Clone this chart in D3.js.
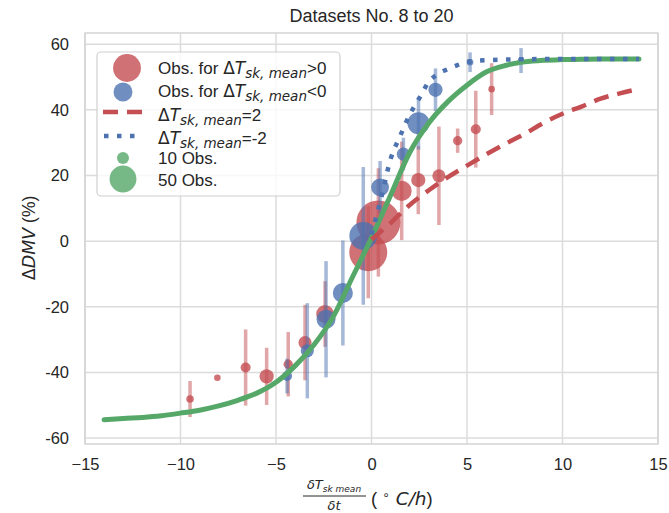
<!DOCTYPE html>
<html><head><meta charset="utf-8">
<script src="https://cdn.jsdelivr.net/npm/d3@7"></script>
<style>
body{margin:0;background:#fff}
svg{display:block}
text{font-family:"Liberation Sans",Arial,sans-serif;fill:#262626}
.m{font-family:"DejaVu Sans",sans-serif}
</style>
</head><body>
<svg id="c" width="669" height="513"></svg>
<script>
// ---- data ----
const xTicks = [-15, -10, -5, 0, 5, 10, 15];
const yTicks = [-60, -40, -20, 0, 20, 40, 60];

// observations, ΔT_sk,mean > 0
const redX   = [-9.5, -8.07, -6.59, -5.49, -4.36, -3.48, -2.43, -0.17, 0.36, 1.58, 2.45, 3.53, 4.51, 5.46, 6.29];
const redY   = [-48.1, -41.6, -38.5, -41.2, -37.5, -30.9, -22.2, -3.4, 5.7, 15.3, 18.6, 19.9, 30.6, 34.1, 46.3];
const redErr = [5.5, 0, 11.6, 8.7, 9.8, 11.5, 10, 14, 16.5, 15, 10.4, 15, 3.7, 11.7, 7.9];
const redN   = [4, 3, 7, 14, 6, 12, 22, 100, 134, 28, 14, 12, 6, 7, 3];

// observations, ΔT_sk,mean < 0
const blueX   = [-4.42, -3.36, -2.38, -1.5, -0.43, 0.45, 1.67, 2.46, 3.35, 5.16, 7.83];
const blueY   = [-41.1, -33.4, -23.8, -15.8, 1.6, 16.4, 26.5, 35.9, 46.1, 54.5, 55.0];
const blueErr = [5.3, 14.5, 17.7, 16, 21, 8, 5, 8, 6.5, 3, 3.8];
const blueN   = [7, 12, 25, 28, 54, 22, 12, 34, 14, 3, 3];

// fitted curve (green)
const fitX = [-14, -13, -12, -11, -10, -9, -8, -7, -6, -5, -4, -3, -2, -1, 0, 1, 2, 3, 4, 5, 6, 7, 8, 9, 10, 11, 12, 13, 14];
const fitY = [-54.4, -54.0, -53.7, -53.2, -52.4, -51.5, -50.2, -48.5, -46.3, -43.0, -38.0, -31.5, -23.0, -11.0, 1.0, 14.0, 27.0, 36.0, 42.5, 47.5, 51.5, 53.5, 54.6, 55.1, 55.3, 55.4, 55.5, 55.5, 55.5];

// model for ΔT_sk,mean = 2 (red dashed)
const warmX = [0, 0.5, 1, 1.5, 2, 3, 4, 5, 6, 7, 8, 9, 10, 11, 12, 13, 14];
const warmY = [0.5, 3, 5.5, 8.3, 11, 15.5, 19.5, 23, 26.4, 29.6, 32.6, 36, 38.8, 41, 43.4, 45, 46.4];

// model for ΔT_sk,mean = -2 (blue dotted)
const coolX = [0, 0.5, 1, 1.5, 2, 2.5, 3, 3.5, 4, 4.5, 5, 6, 8, 10, 12, 14];
const coolY = [2, 13, 25, 32, 38.5, 43.5, 48.5, 51, 52.4, 53.6, 54.6, 55.1, 55.4, 55.5, 55.5, 55.5];

// legend sizes
const legendN = [54, 25, 10, 50];

// ---- drawing ----
const RED = "#C44E52", BLUE = "#4C72B0", GREEN = "#55A868";
const svg = d3.select("#c");
const x = d3.scaleLinear().domain([-15, 15]).range([85, 658]);
const y = d3.scaleLinear().domain([-61.8, 63.4]).range([444, 33]);
const r = d3.scaleSqrt().domain([0, 10]).range([0, 6]);

// grid
const g = svg.append("g");
g.selectAll(".gx").data(xTicks).join("line")
  .attr("x1", d => x(d)).attr("x2", d => x(d)).attr("y1", y.range()[1]).attr("y2", y.range()[0])
  .attr("stroke", "#dcdcdc").attr("stroke-width", 1.5);
g.selectAll(".gy").data(yTicks).join("line")
  .attr("y1", d => y(d)).attr("y2", d => y(d)).attr("x1", x.range()[0]).attr("x2", x.range()[1])
  .attr("stroke", "#dcdcdc").attr("stroke-width", 1.5);
svg.append("rect").attr("x", 85).attr("y", 33).attr("width", 573).attr("height", 411)
  .attr("fill", "none").attr("stroke", "#d4d4d4").attr("stroke-width", 1.5);

// axes labels (ticks)
const xAxis = d3.axisBottom(x).tickValues(xTicks).tickSize(0).tickPadding(14)
  .tickFormat(d => d < 0 ? "\u2212" + Math.abs(d) : String(d));
svg.append("g").attr("transform", "translate(0,444)").call(xAxis)
  .call(s => s.select(".domain").remove())
  .call(s => s.selectAll("text").attr("font-size", 16.5).attr("fill", "#262626").attr("font-family", '"Liberation Sans",Arial,sans-serif'));
const yAxis = d3.axisLeft(y).tickValues(yTicks).tickSize(0).tickPadding(16).tickFormat(d => String(d));
svg.append("g").attr("transform", "translate(85,0)").call(yAxis)
  .call(s => s.select(".domain").remove())
  .call(s => s.selectAll("text").attr("font-size", 16.5).attr("fill", "#262626").attr("font-family", '"Liberation Sans",Arial,sans-serif'));

// error bars + points
function series(X, Y, E, N, col) {
  const data = X.map((v, i) => ({x: v, y: Y[i], e: E[i], n: N[i]}));
  const gg = svg.append("g");
  gg.selectAll("line").data(data.filter(d => d.e > 0)).join("line")
    .attr("x1", d => x(d.x)).attr("x2", d => x(d.x))
    .attr("y1", d => y(d.y - d.e)).attr("y2", d => y(d.y + d.e))
    .attr("stroke", col).attr("stroke-width", 3.5).attr("stroke-opacity", 0.5);
  gg.selectAll("circle").data(data).join("circle")
    .attr("cx", d => x(d.x)).attr("cy", d => y(d.y)).attr("r", d => r(d.n))
    .attr("fill", col).attr("fill-opacity", 0.8);
}
series(redX, redY, redErr, redN, RED);
series(blueX, blueY, blueErr, blueN, BLUE);

// curves
const line = (X, Y) => d3.line().x(d => x(d[0])).y(d => y(d[1])).curve(d3.curveMonotoneX)(X.map((v, i) => [v, Y[i]]));
svg.append("path").attr("d", line(fitX, fitY)).attr("fill", "none").attr("stroke", GREEN).attr("stroke-width", 5).attr("stroke-linecap", "round");
svg.append("path").attr("d", line(warmX, warmY)).attr("fill", "none").attr("stroke", RED).attr("stroke-width", 4.5).attr("stroke-dasharray", "15,9");
svg.append("path").attr("d", line(coolX, coolY)).attr("fill", "none").attr("stroke", BLUE).attr("stroke-width", 4.5).attr("stroke-dasharray", "4.5,8.5");

// title
svg.append("text").attr("x", 371.5).attr("y", 22).attr("text-anchor", "middle").attr("font-size", 18).text("Datasets No. 8 to 20");

// y label
const yl = svg.append("text").attr("transform", "translate(35,238) rotate(-90)").attr("text-anchor", "middle").attr("font-size", 17.5);
yl.append("tspan").attr("class", "m").text("\u0394");
yl.append("tspan").attr("class", "m").attr("font-style", "italic").text("DMV");
yl.append("tspan").text(" (%)");

// x label (fraction)
const xl = svg.append("g");
const num = xl.append("text").attr("x", 334).attr("y", 489).attr("text-anchor", "middle").attr("font-size", 13).attr("class", "m");
num.append("tspan").attr("font-style", "italic").text("\u03b4T");
num.append("tspan").attr("font-style", "italic").attr("font-size", 9).attr("dy", 3).text("sk mean");
xl.append("line").attr("x1", 303).attr("x2", 366).attr("y1", 496).attr("y2", 496).attr("stroke", "#262626").attr("stroke-width", 1);
xl.append("text").attr("x", 334).attr("y", 510).attr("text-anchor", "middle").attr("font-size", 13).attr("class", "m").attr("font-style", "italic").text("\u03b4t");
const unit = xl.append("text").attr("x", 371).attr("y", 505).attr("font-size", 18.5);
unit.append("tspan").text("( ");
unit.append("tspan").attr("font-size", 12).attr("dy", -6).attr("class", "m").text("\u2218");
unit.append("tspan").attr("dy", 6).attr("class", "m").attr("font-style", "italic").text(" C/h");
unit.append("tspan").text(")");

// legend
const lg = svg.append("g");
lg.append("rect").attr("x", 97).attr("y", 52).attr("width", 243).attr("height", 144).attr("rx", 4)
  .attr("fill", "#fff").attr("fill-opacity", 0.8).attr("stroke", "#d0d0d0").attr("stroke-width", 1.2);
lg.append("circle").attr("cx", 127).attr("cy", 68).attr("r", r(legendN[0])).attr("fill", RED).attr("fill-opacity", 0.8);
lg.append("circle").attr("cx", 123).attr("cy", 92).attr("r", r(legendN[1])).attr("fill", BLUE).attr("fill-opacity", 0.8);
lg.append("line").attr("x1", 103).attr("x2", 143).attr("y1", 112).attr("y2", 112).attr("stroke", RED).attr("stroke-width", 4.5).attr("stroke-dasharray", "15,9");
lg.append("line").attr("x1", 104).attr("x2", 143).attr("y1", 136).attr("y2", 136).attr("stroke", BLUE).attr("stroke-width", 4.5).attr("stroke-dasharray", "4.5,8.5");
lg.append("circle").attr("cx", 123).attr("cy", 158).attr("r", r(legendN[2])).attr("fill", GREEN).attr("fill-opacity", 0.8);
lg.append("circle").attr("cx", 123).attr("cy", 179).attr("r", r(legendN[3])).attr("fill", GREEN).attr("fill-opacity", 0.8);

function mathLabel(yc, pre, post) {
  const t = lg.append("text").attr("x", 158).attr("y", yc + 6).attr("font-size", 17);
  if (pre) t.append("tspan").text(pre);
  t.append("tspan").attr("class", "m").text("\u0394");
  t.append("tspan").attr("class", "m").attr("font-style", "italic").text("T");
  t.append("tspan").attr("class", "m").attr("font-style", "italic").attr("font-size", 13.5).attr("dy", 4).text("sk, mean");
  t.append("tspan").attr("dy", -4).text(post);
}
mathLabel(68, "Obs. for ", ">0");
mathLabel(91, "Obs. for ", "<0");
mathLabel(115, null, "=2");
mathLabel(138, null, "=-2");
lg.append("text").attr("x", 158).attr("y", 164).attr("font-size", 17).text("10 Obs.");
lg.append("text").attr("x", 158).attr("y", 186).attr("font-size", 17).text("50 Obs.");
</script>
</body></html>
